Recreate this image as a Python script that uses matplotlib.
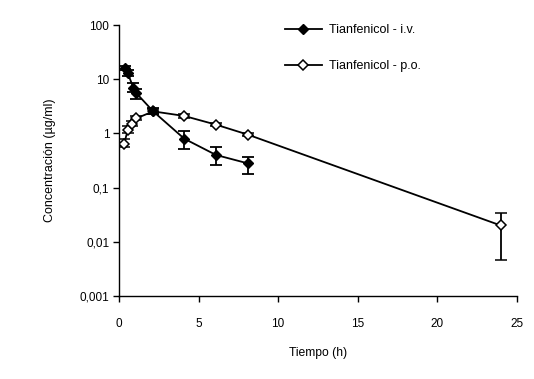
import matplotlib
matplotlib.use("Agg")
import matplotlib.pyplot as plt
from matplotlib.lines import Line2D
import numpy as np

plt.rcParams['font.family'] = ['Liberation Sans', 'DejaVu Sans']

# Data
iv_t = [0.4, 0.55, 0.9, 1.1, 2.15, 4.1, 6.1, 8.1]
iv_c = [16, 13, 7.0, 5.5, 2.55, 0.8, 0.4, 0.28]
iv_lo = [14.5, 11.5, 5.8, 4.4, 2.25, 0.51, 0.26, 0.18]
iv_hi = [17.5, 14.5, 8.6, 6.5, 2.9, 1.1, 0.55, 0.37]

po_t = [0.33, 0.55, 0.8, 1.1, 2.15, 4.1, 6.1, 8.1, 24.0]
po_c = [0.65, 1.15, 1.5, 1.9, 2.55, 2.1, 1.45, 0.95, 0.02]
po_lo = [0.56, 1.0, 1.35, 1.75, 2.3, 1.95, 1.35, 0.9, 0.0046]
po_hi = [0.8, 1.35, 1.7, 2.1, 2.85, 2.3, 1.55, 1.0, 0.034]

yticks = [0.001, 0.01, 0.1, 1, 10, 100]
ytick_labels = ["0,001", "0,01", "0,1", "1", "10", "100"]
xticks = [0, 5, 10, 15, 20, 25]

fig = plt.figure(figsize=(5.34, 3.79), dpi=100)
ax = fig.add_axes([0.2228, 0.219, 0.9676 - 0.2228, 0.934 - 0.219])

iv_err = [np.array(iv_c) - np.array(iv_lo), np.array(iv_hi) - np.array(iv_c)]
po_err = [np.array(po_c) - np.array(po_lo), np.array(po_hi) - np.array(po_c)]

ax.errorbar(po_t, po_c, yerr=po_err, color='black', lw=1.3, marker='D', ms=5.5,
            mfc='white', mec='black', mew=1.1, capsize=4.5, elinewidth=1.3,
            capthick=1.3, zorder=3)
ax.errorbar(iv_t, iv_c, yerr=iv_err, color='black', lw=1.3, marker='D', ms=5.5,
            mfc='black', mec='black', capsize=4.5, elinewidth=1.3,
            capthick=1.3, zorder=4)

ax.set_yscale('log')
ax.set_ylim(0.001, 100)
ax.set_xlim(0, 25)
ax.set_yticks(yticks)
ax.set_yticklabels(ytick_labels)
ax.yaxis.set_minor_locator(matplotlib.ticker.NullLocator())
ax.set_xticks(xticks)
ax.tick_params(labelsize=8.5, length=4, width=1, direction='out', pad=12)
ax.tick_params(axis='y', pad=3)

for s in ['top', 'right']:
    ax.spines[s].set_visible(False)
for s in ['left', 'bottom']:
    ax.spines[s].set_linewidth(1)

ax.set_xlabel('Tiempo (h)', fontsize=8.7, labelpad=12)
ax.set_ylabel('Concentración (µg/ml)', fontsize=9, labelpad=17)

h_iv = Line2D([], [], color='black', lw=1.3, marker='D', ms=5,
              mfc='black', mec='black')
h_po = Line2D([], [], color='black', lw=1.3, marker='D', ms=5,
              mfc='white', mec='black', mew=1.1)
ax.legend([h_iv, h_po], ['Tianfenicol - i.v.', 'Tianfenicol - p.o.'],
          loc='upper left', bbox_to_anchor=(0.39, 1.045), frameon=False,
          fontsize=9, handlelength=2.9, handletextpad=0.6,
          labelspacing=1.95, numpoints=1)

fig.savefig('out.png', dpi=100)
